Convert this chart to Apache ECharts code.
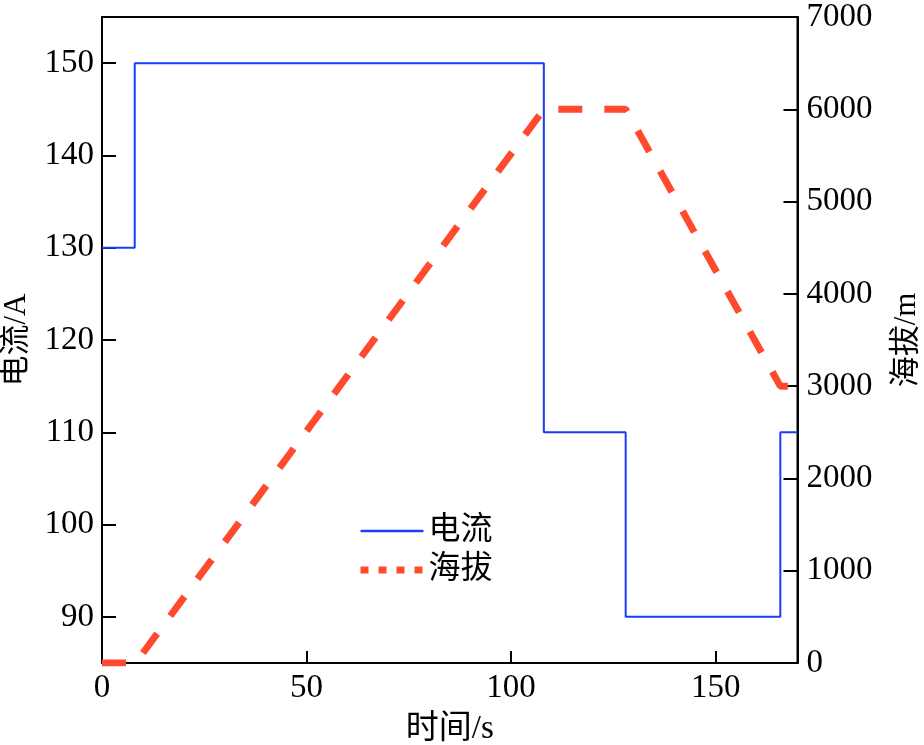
<!DOCTYPE html>
<html>
<head>
<meta charset="utf-8">
<script src="https://cdn.jsdelivr.net/npm/echarts@6/dist/echarts.min.js"></script>
<style>html,body{margin:0;padding:0;background:#fff;}#c{width:924px;height:745px;}</style>
</head>
<body>
<div id="c"></div>
<script>
// Data
const currentTimes = [0, 8, 108, 128, 165.8, 170];
const currentValues = [130, 150, 110, 90, 110, 110];
const altitudeTimes = [0, 8.2, 108, 128, 165.8, 170];
const altitudeValues = [0, 0, 6000, 6000, 3000, 3000];
const xTicks = [0, 50, 100, 150];
const leftTicks = [90, 100, 110, 120, 130, 140, 150];
const rightTicks = [0, 1000, 2000, 3000, 4000, 5000, 6000, 7000];

const FONT = '"Liberation Serif", "Noto Sans CJK SC", serif';
const BLUE = '#1a3cff';
const RED = '#ff4a2e';

const chart = echarts.init(document.getElementById('c'), null, {renderer: 'canvas'});
const axisLine = {show: true, lineStyle: {color: '#000', width: 2}};
const plain = v => String(v);
chart.setOption({
  animation: false,
  backgroundColor: '#fff',
  grid: {left: 102, right: 126.5, top: 17, bottom: 82, show: true, borderColor: '#000', borderWidth: 2,
         containLabel: false, outerBoundsMode: 'none'},
  legend: {
    orient: 'vertical', left: 357, top: 515, itemWidth: 63, itemHeight: 14, itemGap: 7, padding: 0,
    textStyle: {fontFamily: FONT, fontSize: 32, color: '#000'},
    itemStyle: {opacity: 0},
    data: [
      {name: '电流', lineStyle: {color: BLUE, width: 2.5}},
      {name: '海拔', lineStyle: {color: RED, width: 7, type: [8, 10]}}
    ]
  },
  xAxis: {
    type: 'value', min: 0, max: 170,
    name: '时间/s', nameLocation: 'middle', nameGap: 50,
    nameTextStyle: {fontFamily: FONT, fontSize: 33, color: '#000'},
    axisLine: axisLine,
    axisTick: {show: true, inside: true, length: 12, lineStyle: {color: '#000', width: 2}, customValues: [50, 100, 150]},
    axisLabel: {fontFamily: FONT, fontSize: 33, color: '#000', margin: 9, customValues: xTicks, formatter: plain},
    splitLine: {show: false}
  },
  yAxis: [
    {
      type: 'value', min: 85, max: 155, position: 'left',
      name: '电流/A', nameLocation: 'middle', nameGap: 70, nameRotate: 90,
      nameTextStyle: {fontFamily: FONT, fontSize: 31, color: '#000'},
      axisLine: axisLine,
      axisTick: {show: true, inside: true, length: 14, lineStyle: {color: '#000', width: 2}, customValues: leftTicks},
      axisLabel: {fontFamily: FONT, fontSize: 33, color: '#000', margin: 8, customValues: leftTicks, formatter: plain},
      splitLine: {show: false}
    },
    {
      type: 'value', min: 0, max: 7000, interval: 1000, position: 'right',
      name: '海拔/m', nameLocation: 'middle', nameGap: 94, nameRotate: 90,
      nameTextStyle: {fontFamily: FONT, fontSize: 31, color: '#000'},
      axisLine: axisLine,
      axisTick: {show: true, inside: true, length: 14, lineStyle: {color: '#000', width: 2}},
      axisLabel: {fontFamily: FONT, fontSize: 33, color: '#000', margin: 9, customValues: rightTicks, formatter: plain},
      splitLine: {show: false}
    }
  ],
  series: [
    {
      name: '电流', type: 'line', yAxisIndex: 0, step: 'end', symbol: 'none',
      lineStyle: {color: BLUE, width: 2}, itemStyle: {color: BLUE},
      data: currentTimes.map((t, i) => [t, currentValues[i]]), z: 3
    },
    {
      name: '海拔', type: 'line', yAxisIndex: 1, symbol: 'none',
      lineStyle: {color: RED, width: 7, type: [24, 22]}, itemStyle: {color: RED},
      data: altitudeTimes.map((t, i) => [t, altitudeValues[i]]), z: 2
    }
  ]
});
</script>
</body>
</html>
